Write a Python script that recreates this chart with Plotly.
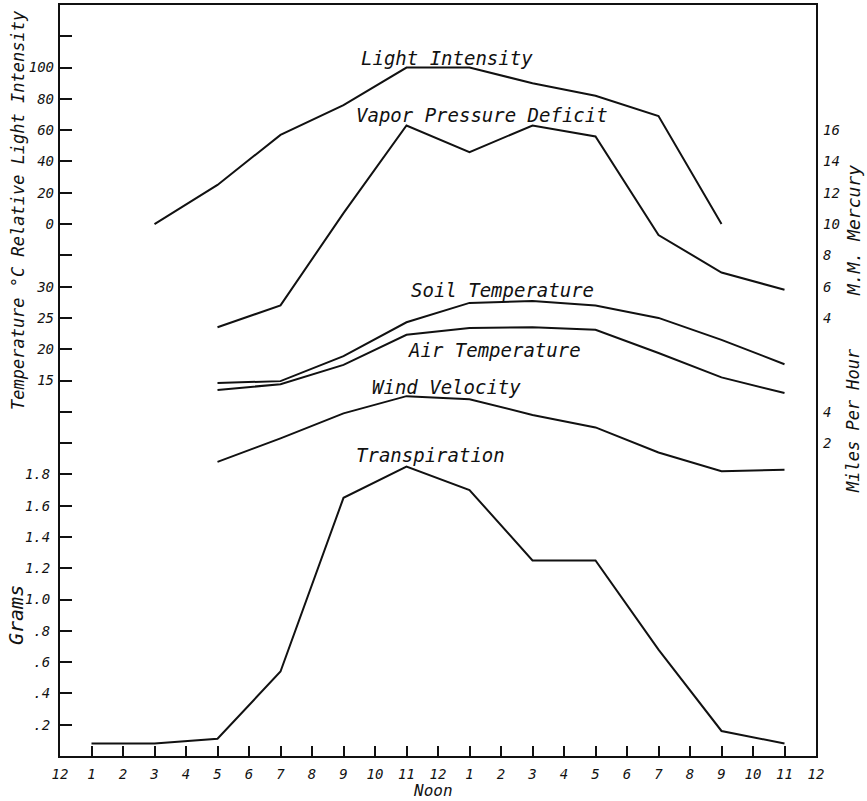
import plotly.graph_objects as go

# ---- data ----
hour_labels = ["12", "1", "2", "3", "4", "5", "6", "7", "8", "9", "10", "11",
               "12", "1", "2", "3", "4", "5", "6", "7", "8", "9", "10", "11", "12"]
hours_light = [3, 5, 7, 9, 11, 13, 15, 17, 19, 21]
light = [0, 25, 57, 76, 100, 100, 90, 82, 69, 0]

hours_main = [5, 7, 9, 11, 13, 15, 17, 19, 21, 23]
vpd = [3.4, 4.8, 10.7, 16.3, 14.6, 16.3, 15.6, 9.3, 6.9, 5.8]
soil_temp = [14.6, 14.9, 18.9, 24.3, 27.4, 27.7, 27.0, 25.0, 21.5, 17.6]
air_temp = [13.5, 14.4, 17.5, 22.3, 23.4, 23.5, 23.1, 19.4, 15.5, 13.0]
wind = [0.8, 2.3, 3.9, 5.0, 4.8, 3.8, 3.0, 1.4, 0.2, 0.3]

hours_transp = [1, 3, 5, 7, 9, 11, 13, 15, 17, 19, 21, 23]
transpiration = [0.08, 0.08, 0.11, 0.54, 1.65, 1.85, 1.70, 1.25, 1.25, 0.68, 0.16, 0.08]

gram_ticks = [0.2, 0.4, 0.6, 0.8, 1.0, 1.2, 1.4, 1.6, 1.8]
gram_labels = [".2", ".4", ".6", ".8", "1.0", "1.2", "1.4", "1.6", "1.8"]
extra_gram_ticks = [2.0, 2.2, 3.2, 4.6]
temp_ticks = [15, 20, 25, 30]
light_ticks = [0, 20, 40, 60, 80, 100]
vpd_ticks = [4, 6, 8, 10, 12, 14, 16]
wind_ticks = [2, 4]

FONT = "DejaVu Sans Mono"
INK = "#111111"
tf = dict(family=FONT, size=14, color=INK, style="italic")

fig = go.Figure()
line = dict(color=INK, width=2)
fig.add_trace(go.Scatter(x=hours_transp, y=transpiration, mode="lines", line=line, yaxis="y"))
fig.add_trace(go.Scatter(x=hours_main, y=soil_temp, mode="lines", line=line, yaxis="y2"))
fig.add_trace(go.Scatter(x=hours_main, y=air_temp, mode="lines", line=line, yaxis="y2"))
fig.add_trace(go.Scatter(x=hours_light, y=light, mode="lines", line=line, yaxis="y3"))
fig.add_trace(go.Scatter(x=hours_main, y=vpd, mode="lines", line=line, yaxis="y4"))
fig.add_trace(go.Scatter(x=hours_main, y=wind, mode="lines", line=line, yaxis="y5"))

common_left = dict(overlaying="y", side="left", anchor="x", ticks="inside", ticklen=12,
                   tickwidth=1.5, tickcolor=INK, showgrid=False, zeroline=False,
                   showline=False, tickfont=tf, ticklabelstandoff=5, tickmode="array",
                   automargin=False)
common_right = dict(overlaying="y", side="right", anchor="x", ticks="", showgrid=False,
                    zeroline=False, showline=False, tickfont=tf, ticklabelstandoff=6,
                    tickmode="array", automargin=False)

fig.update_layout(
    width=867, height=801,
    margin=dict(l=60, r=51, t=5, b=45),
    paper_bgcolor="white", plot_bgcolor="white",
    showlegend=False,
    xaxis=dict(range=[0, 24], tickmode="array", tickvals=list(range(25)), ticktext=hour_labels,
               ticks="inside", ticklen=10, tickwidth=1.5, tickcolor=INK,
               showline=True, linewidth=2, linecolor=INK, mirror=True,
               showgrid=False, zeroline=False, tickfont=tf, ticklabelstandoff=4,
               automargin=False),
    yaxis=dict(range=[0, 4.8], tickmode="array",
               tickvals=gram_ticks + extra_gram_ticks,
               ticktext=gram_labels + [""] * len(extra_gram_ticks),
               ticks="inside", ticklen=12, tickwidth=1.5, tickcolor=INK,
               showline=True, linewidth=2, linecolor=INK, mirror=True,
               showgrid=False, zeroline=False, tickfont=tf, ticklabelstandoff=5,
               automargin=False),
    yaxis2=dict(range=[-45, 75], tickvals=temp_ticks, **common_left),
    yaxis3=dict(range=[-340, 140], tickvals=light_ticks, **common_left),
    yaxis4=dict(range=[-24, 24], tickvals=vpd_ticks, **common_right),
    yaxis5=dict(range=[-18, 30], tickvals=wind_ticks, **common_right),
)

def px(x, y):
    return (x - 60) / 756, (756 - y) / 751

lab_font = dict(family=FONT, size=19, color=INK, style="italic")
labels = [
    ("Light Intensity", 447, 58),
    ("Vapor Pressure Deficit", 482, 115),
    ("Soil Temperature", 503, 290),
    ("Air Temperature", 494, 350),
    ("Wind Velocity", 447, 387),
    ("Transpiration", 430, 455),
]
for text, x, y in labels:
    xp, yp = px(x, y)
    fig.add_annotation(text=text, x=xp, y=yp, xref="paper", yref="paper",
                       showarrow=False, font=lab_font, xanchor="center", yanchor="middle")

xp, yp = px(433, 790)
fig.add_annotation(text="Noon", x=xp, y=yp, xref="paper", yref="paper", showarrow=False,
                   xanchor="center", yanchor="middle",
                   font=dict(family=FONT, size=16, color=INK, style="italic"))

title_specs = [
    ("Temperature °C Relative Light Intensity", 18, 210, 17),
    ("Grams", 16, 615, 20),
    ("M.M. Mercury", 853, 230, 18),
    ("Miles Per Hour", 853, 420, 17),
]
for text, x, y, size in title_specs:
    xp, yp = px(x, y)
    fig.add_annotation(text=text, x=xp, y=yp, xref="paper", yref="paper", showarrow=False,
                       xanchor="center", yanchor="middle", textangle=-90,
                       font=dict(family=FONT, size=size, color=INK, style="italic"))

fig.write_html("out.html", config={"displayModeBar": False},
               post_script="document.body.style.margin='0';document.body.style.padding='0';")
